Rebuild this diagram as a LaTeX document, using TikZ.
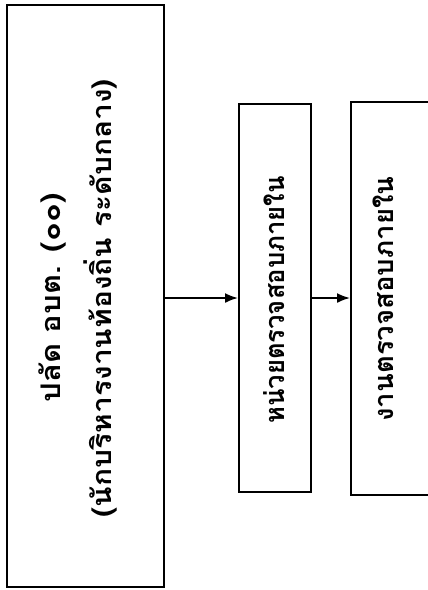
\documentclass[tikz,border=0pt]{standalone}
\usepackage{fontspec}
\newfontfamily\thaifont[Script=Thai]{Loma}
\usetikzlibrary{arrows.meta}
\tikzset{
  orgbox/.style={draw=black, line width=2pt, rectangle, inner sep=0pt},
  label thai/.style={font=\thaifont\bfseries\fontsize{27}{31}\selectfont, inner sep=0pt},
  link/.style={line width=1.8pt, -{Latex[length=13pt,width=10pt]}}
}
\begin{document}
\begin{tikzpicture}[x=1pt, y=-1pt]
  \clip (0,0) rectangle (428,590);
  \fill[white] (0,0) rectangle (428,590);
  % boxes
  \node[orgbox, minimum width=157pt, minimum height=582pt] (chief) at (85.5,296) {};
  \node[orgbox, minimum width=72pt, minimum height=388pt] (unit) at (275,298) {};
  \node[orgbox, minimum width=100pt, minimum height=393pt] (work) at (401,298.5) {};
  % label centres
  \coordinate (pA) at (52,298);
  \coordinate (pB) at (100,298);
  \coordinate (pU) at (274,300);
  \coordinate (pW) at (383,299);
  % labels, set along the boxes and reading upwards
  \node[label thai, rotate=90, xscale=1.15, transform shape] (chiefA) at (pA) {ปลัด อบต. (๐๐)};
  \node[label thai, rotate=90, xscale=1.11, transform shape] (chiefB) at (pB) {(นักบริหารงานท้องถิ่น ระดับกลาง)};
  \node[label thai, rotate=90, xscale=0.95, transform shape] (unitT) at (pU) {หน่วยตรวจสอบภายใน};
  \node[label thai, rotate=90, xscale=1.02, transform shape] (workT) at (pW) {งานตรวจสอบภายใน};
  % connectors
  \draw[link] (chief.east |- unit.west) -- (unit.west);
  \draw[link] (unit.east) -- (work.west |- unit.east);
\end{tikzpicture}
\end{document}
